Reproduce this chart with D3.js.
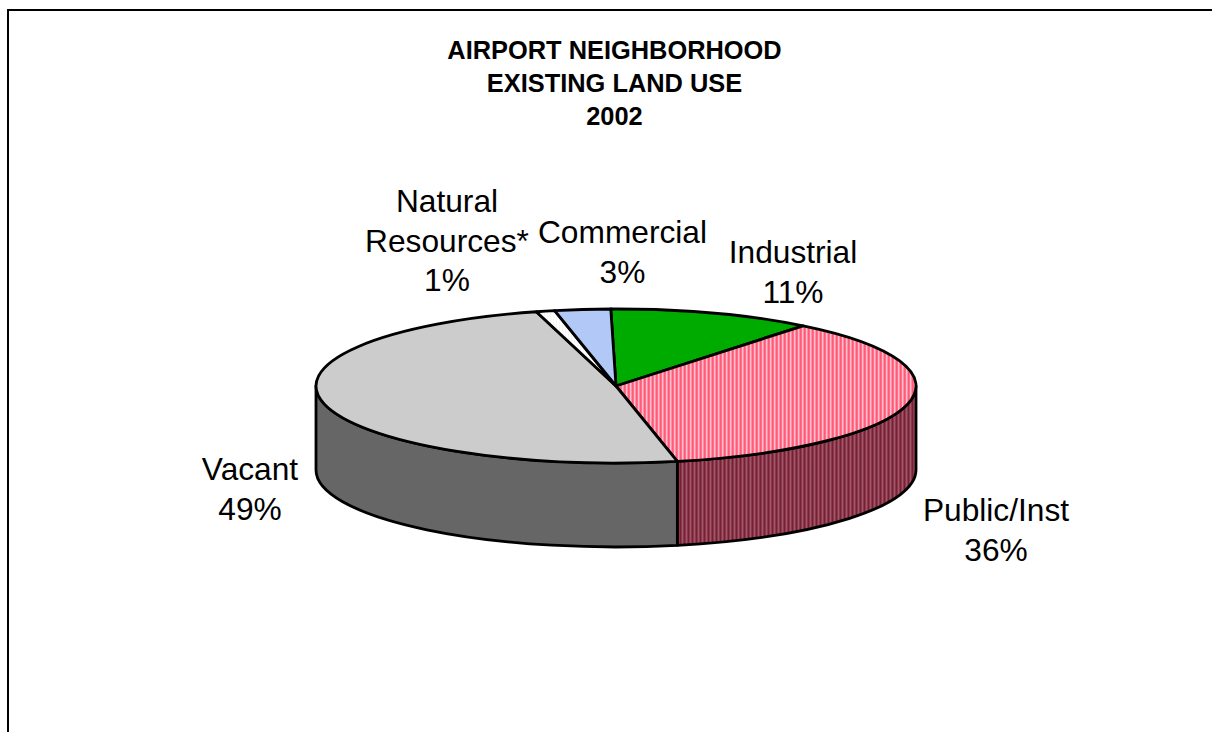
<!DOCTYPE html>
<html>
<head>
<meta charset="utf-8">
<style>
  html, body { margin: 0; padding: 0; background: #fff; overflow: hidden; }
  svg { display: block; }
  text { font-family: "Liberation Sans", Arial, sans-serif; fill: #000; text-anchor: middle; }
</style>
<script src="https://d3js.org/d3.v7.min.js"></script>
</head>
<body>
<svg id="chart" width="1212" height="732"></svg>
<script>
// Land use shares, clockwise from the Industrial slice
const categories = ["Industrial", "Public/Inst", "Vacant", "Natural Resources*", "Commercial"];
const shares = [11, 36, 49, 1, 3];
const titleLines = ["AIRPORT NEIGHBORHOOD", "EXISTING LAND USE", "2002"];

// Label layout: each label's lines, centre and first baseline
const labelLines = [["Industrial"], ["Public/Inst"], ["Vacant"], ["Natural", "Resources*"], ["Commercial"]];
const labelX = [793, 996, 250, 447, 622.5];
const labelY = [263, 521, 480, 212, 243];

const width = 1212, height = 732;
const cx = 616, cy = 386, rx = 300, ry = 77, depth = 84;
const startDeg = -1;

const svg = d3.select("#chart");
const defs = svg.append("defs");

// Fine woven fills for the hatched slices
function stripes(id, period, colors) {
  const p = defs.append("pattern").attr("id", id).attr("patternUnits", "userSpaceOnUse")
    .attr("width", period).attr("height", 4);
  colors.forEach((c, i) => p.append("rect").attr("x", i).attr("y", 0).attr("width", 1).attr("height", 4).attr("fill", c));
}
stripes("pubTop", 4, ["#ff5a78", "#ff6f8b", "#ffc0cc", "#ff8fa5"]);
stripes("pubWall", 4, ["#7a1f33", "#8a3a4c", "#a0566a", "#8a3a4c"]);

const blue = defs.append("pattern").attr("id", "comTop").attr("patternUnits", "userSpaceOnUse").attr("width", 2).attr("height", 2);
blue.append("rect").attr("width", 2).attr("height", 2).attr("fill", "#a9c3f5");
blue.append("rect").attr("width", 1).attr("height", 1).attr("fill", "#bcd0fa");
blue.append("rect").attr("x", 1).attr("y", 1).attr("width", 1).attr("height", 1).attr("fill", "#bcd0fa");

const dots = defs.append("pattern").attr("id", "natTop").attr("patternUnits", "userSpaceOnUse").attr("width", 3).attr("height", 3);
dots.append("rect").attr("width", 3).attr("height", 3).attr("fill", "#fff");
dots.append("rect").attr("width", 1).attr("height", 1).attr("fill", "#e6e6e6");

const topFill = ["#00ab00", "url(#pubTop)", "#cccccc", "url(#natTop)", "url(#comTop)"];
const wallFill = ["#005500", "url(#pubWall)", "#666666", "#888888", "#55618a"];

// Sheet frame: top and left rules only
svg.append("path").attr("d", d3.line()([[8, height], [8, 10], [width, 10]]))
  .attr("fill", "none").attr("stroke", "#000").attr("stroke-width", 2);

// Slice angles from the shares
const toRad = Math.PI / 180;
const pie = d3.pie().sort(null)
  .startAngle(startDeg * toRad)
  .endAngle((startDeg + 360) * toRad);
const slices = pie(shares);

const rimPoint = (a, dy) => [cx + rx * Math.sin(a), cy - ry * Math.cos(a) + dy];

// Side wall: the part of each slice on the near half of the rim
slices.forEach((s, i) => {
  const lo = Math.max(s.startAngle, Math.PI / 2);
  const hi = Math.min(s.endAngle, 3 * Math.PI / 2);
  if (hi <= lo) return;
  const [x0, y0] = rimPoint(lo, 0), [x1, y1] = rimPoint(hi, 0);
  const wall = `M${x0},${y0}A${rx},${ry} 0 0 1 ${x1},${y1}` +
    `L${x1},${y1 + depth}A${rx},${ry} 0 0 0 ${x0},${y0 + depth}Z`;
  svg.append("path").attr("d", wall)
    .attr("fill", wallFill[i]).attr("stroke", "#000").attr("stroke-width", 2.8).attr("stroke-linejoin", "round");
});

// Top face: a circular pie squashed into the ellipse
const arc = d3.arc().innerRadius(0).outerRadius(rx);
svg.append("g").attr("transform", `translate(${cx},${cy}) scale(1,${ry / rx})`)
  .selectAll("path").data(slices).join("path")
  .attr("d", arc)
  .attr("fill", (d, i) => topFill[i])
  .attr("stroke", "#000")
  .attr("stroke-width", 2.8)
  .attr("stroke-linejoin", "round")
  .attr("vector-effect", "non-scaling-stroke");

// Title
svg.append("g").selectAll("text").data(titleLines).join("text")
  .attr("x", 614.5)
  .attr("y", (d, i) => [59, 92, 125][i])
  .attr("font-size", 25.4)
  .attr("font-weight", "bold")
  .text(d => d);

// Category labels with their percentages underneath
const lineGap = 39.5;
const labels = svg.append("g");
categories.forEach((c, i) => {
  const lines = labelLines[i].concat(shares[i] + "%");
  labels.selectAll(null).data(lines).enter().append("text")
    .attr("x", labelX[i])
    .attr("y", (d, k) => labelY[i] + k * lineGap)
    .attr("font-size", 31.7)
    .text(d => d);
});
</script>
</body>
</html>
